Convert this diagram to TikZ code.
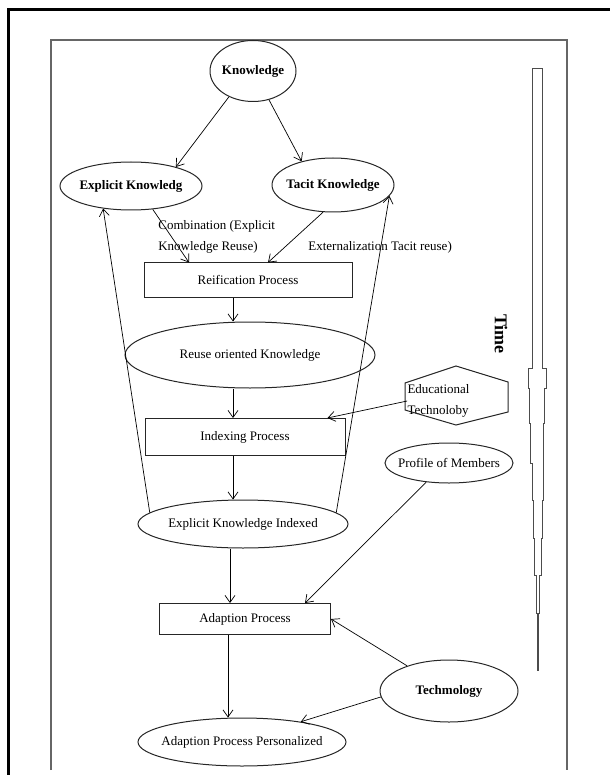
\documentclass[tikz,border=0pt]{standalone}
\usepackage{fontspec}
\setmainfont{Liberation Serif}
\usetikzlibrary{shapes.geometric, arrows.meta}

\begin{document}
\begin{tikzpicture}[x=1pt, y=-1pt, line width=0.7pt, >={Straight Barb[length=7pt,width=10pt]},
  every node/.style={font=\fontsize{13}{21}\selectfont, inner sep=0pt},
  bold/.style={font=\fontsize{13}{21}\selectfont\bfseries},
  oval/.style={draw=black!85, ellipse, line width=1pt, inner xsep=-30pt},
  box/.style={draw=black!85, rectangle, line width=1pt},
  lbl/.style={align=left, anchor=west}]
\useasboundingbox (0,0) rectangle (610,775);

\draw[line width=3pt] (8,775) -- (8,10) -- (610,10);
\draw[black!60, line width=1.3pt] (51,770) -- (51,40) -- (567,40) -- (567,770);

\node[oval, bold, minimum width=86pt, minimum height=61pt] (know) at (253,71) {Knowledge};
\node[oval, bold, minimum width=142pt, minimum height=48pt] (expl) at (131,186) {Explicit Knowledg};
\node[oval, bold, minimum width=122pt, minimum height=54pt] (tacit) at (333,185) {Tacit Knowledge};
\node[lbl] (comb) at (158,237) {Combination (Explicit\\Knowledge Reuse)};
\node[lbl] (ext) at (308,247) {Externalization Tacit reuse)};
\node[box, minimum width=208pt, minimum height=34pt] (reif) at (248,280) {Reification Process};
\node[oval, minimum width=250pt, minimum height=66pt] (reuse) at (250,355) {Reuse oriented Knowledge};
\node[align=left, text width=97pt] (edu) at (456,401) {Educational\\Technoloby};
\node[box, minimum width=200pt, minimum height=37pt] (index) at (245,437) {Indexing Process};
\node[oval, minimum width=128pt, minimum height=40pt] (prof) at (449,463) {Profile of Members};
\node[oval, minimum width=210pt, minimum height=48pt] (eki) at (243,524) {Explicit Knowledge Indexed};
\node[box, minimum width=171pt, minimum height=31pt] (adapt) at (245,619) {Adaption Process};
\node[oval, bold, minimum width=138pt, minimum height=62pt] (tech) at (449,691) {Techmology};
\node[oval, minimum width=208pt, minimum height=48pt] (app) at (242,742) {Adaption Process Personalized};
\node[font=\fontsize{18}{20}\selectfont\bfseries, rotate=-90] (time) at (501,334) {Time};

\draw[black!85, line width=1pt, shift={(edu.center)}] (-51,-18) -- (0,-35) -- (52,-19) -- (52,11) -- (0,24) -- (-51,9) -- cycle;

\draw[black!70, line width=0.9pt] (532,68) -- (532,368) -- (528,368) -- (528,388) -- (529,388) -- (529,423)
  -- (530,423) -- (530,463) -- (532,463) -- (532,500) -- (533,500) -- (533,538) -- (534,538) -- (534,575)
  -- (536,575) -- (536,613) -- (537,613) -- (537,670) -- (538,670) -- (538,613) -- (539,613) -- (539,575)
  -- (541,575) -- (541,538) -- (542,538) -- (542,500) -- (543,500) -- (543,423) -- (544,423) -- (544,388)
  -- (546,388) -- (546,368) -- (542,368) -- (542,68) -- cycle;

\draw[->] (know.-133) -- (expl.23);
\draw[->] (know.-61) -- (tacit.143);
\draw[->] (expl.-47) -- ([xshift=-59pt]reif.north);
\draw[->] (tacit.-110) -- ([xshift=20pt]reif.north);
\draw[->] ([xshift=-15pt]reif.south) -- ([xshift=-15pt]reif.south |- reuse.north);
\draw[->] ([xshift=-17pt]reuse.south) -- ([xshift=-17pt]reuse.south |- index.north);
\draw[->] (edu.west) -- ([xshift=-18pt]index.north east);
\draw[->] ([xshift=-12pt]index.south) -- ([xshift=-12pt]index.south |- eki.north);
\draw[->] (eki.173) -- (expl.-141);
\draw[->] (eki.7) -- (tacit.-11);
\draw[->] ([xshift=-13pt]eki.south) -- ([xshift=-13pt]eki.south |- adapt.north);
\draw[->] (prof.-140) -- ([xshift=60pt]adapt.north);
\draw[->] ([xshift=-17pt]adapt.south) -- ([xshift=-17pt]adapt.south |- app.north);
\draw[->] (tech.149) -- (adapt.east);
\draw[->] (tech.185) -- (app.19);

\end{tikzpicture}
\end{document}
